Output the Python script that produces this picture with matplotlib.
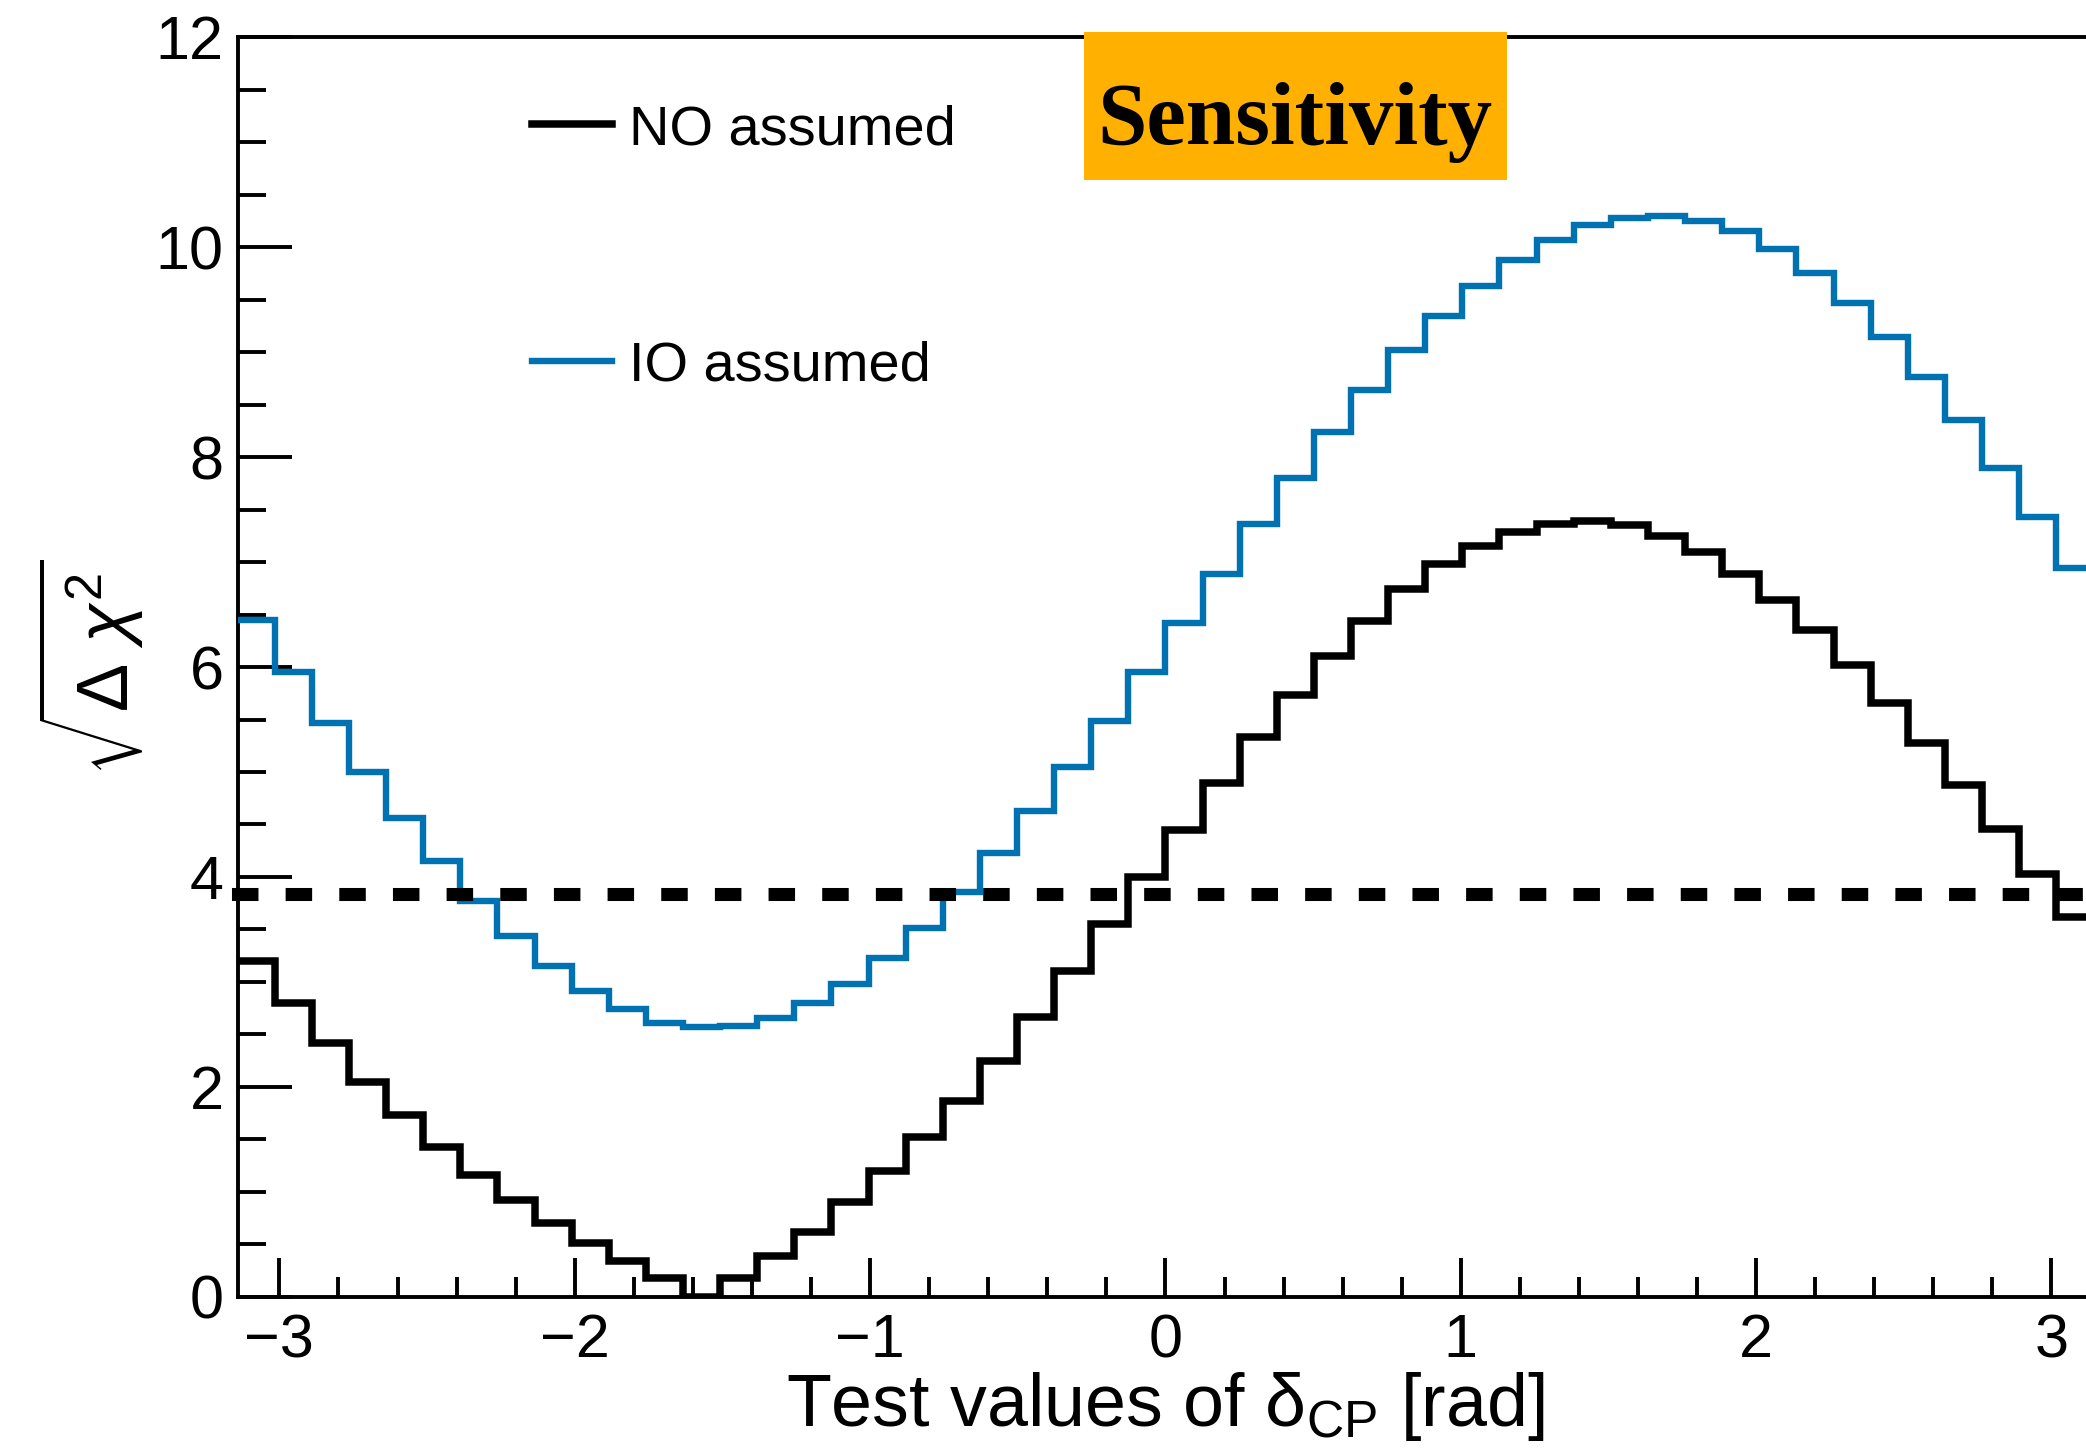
import numpy as np
import matplotlib
matplotlib.use("Agg")
import matplotlib.pyplot as plt
from matplotlib.lines import Line2D
from matplotlib.patches import Rectangle

# ---------------- data ----------------
n_bins = 50
x_min, x_max = -np.pi, np.pi
no_assumed = [3.20, 2.80, 2.42, 2.05, 1.73, 1.43, 1.16, 0.92, 0.70, 0.51,
              0.34, 0.18, 0.00, 0.18, 0.39, 0.62, 0.90, 1.20, 1.52, 1.87,
              2.25, 2.67, 3.10, 3.55, 4.00, 4.45, 4.90, 5.33, 5.73, 6.11,
              6.44, 6.74, 6.98, 7.15, 7.29, 7.36, 7.39, 7.35, 7.25, 7.10,
              6.89, 6.64, 6.35, 6.02, 5.66, 5.28, 4.88, 4.46, 4.03, 3.62]
io_assumed = [6.45, 5.95, 5.47, 5.00, 4.56, 4.15, 3.77, 3.44, 3.15, 2.91,
              2.74, 2.61, 2.57, 2.58, 2.66, 2.80, 2.98, 3.23, 3.51, 3.86,
              4.23, 4.63, 5.05, 5.49, 5.95, 6.42, 6.89, 7.36, 7.80, 8.24,
              8.64, 9.02, 9.34, 9.63, 9.88, 10.07, 10.21, 10.28, 10.30, 10.25,
              10.15, 9.98, 9.75, 9.47, 9.14, 8.76, 8.35, 7.90, 7.43, 6.94]
threshold = 3.84
labels = ["NO assumed", "IO assumed"]
x_ticks = [-3, -2, -1, 0, 1, 2, 3]
y_ticks = [0, 2, 4, 6, 8, 10, 12]
title_text = "Sensitivity"

# ---------------- style ----------------
plt.rcParams['font.family'] = ['Liberation Sans', 'DejaVu Sans']
plt.rcParams['mathtext.fontset'] = 'custom'
plt.rcParams['mathtext.rm'] = 'Liberation Sans'
plt.rcParams['mathtext.it'] = 'Liberation Sans:italic'
plt.rcParams['mathtext.bf'] = 'Liberation Sans:bold'

W, H, DPI = 2086, 1455, 100
fig = plt.figure(figsize=(W / DPI, H / DPI), dpi=DPI)
fig.patch.set_facecolor('white')

ax = fig.add_axes([0.1139, 0.10873, 0.8896, 0.86563])

edges = np.linspace(x_min, x_max, n_bins + 1)
black = '#000000'
blue = '#0072B2'
lw_black = 5.4
lw_blue = 4.6

ax.stairs(no_assumed, edges, baseline=None, color=black, linewidth=lw_black,
          joinstyle='miter', zorder=3)
ax.stairs(io_assumed, edges, baseline=None, color=blue, linewidth=lw_blue,
          joinstyle='miter', zorder=3)

ax.hlines(threshold, x_min, x_max, colors=black, linewidth=9.4,
          linestyles=(0, (1.03, 3.08)), capstyle='projecting',
          clip_on=False, zorder=4)

ax.set_xlim(x_min, x_max)
ax.set_ylim(0, 12)

ax.set_xticks(x_ticks)
ax.set_xticks(np.arange(-3.0, 3.01, 0.2), minor=True)
ax.set_yticks(y_ticks)
ax.set_yticks(np.arange(0, 12.01, 0.5), minor=True)
ax.set_xticklabels([str(v).replace('-', '\u2212') for v in x_ticks])
ax.set_yticklabels([str(v) for v in y_ticks])

for s in ['left', 'bottom', 'top']:
    ax.spines[s].set_linewidth(2.8)
ax.spines['right'].set_visible(False)

ax.tick_params(axis='y', which='major', direction='in', length=39, width=2.8,
               labelsize=44, pad=10)
ax.tick_params(axis='y', which='minor', direction='in', length=20, width=2.8)
ax.tick_params(axis='x', which='major', direction='in', length=28, width=2.8,
               labelsize=44, pad=12)
ax.tick_params(axis='x', which='minor', direction='in', length=14.5, width=2.8)
ax.tick_params(top=False, right=False, which='both')

ax.set_xlabel('Test values of \u03b4$_{\\mathrm{CP}}$ [rad]', fontsize=53)
ax.xaxis.set_label_coords(0.5, -0.058)
ax.set_ylabel(r'$\sqrt{\Delta\ \chi^{2}}$', fontsize=52)
ax.yaxis.set_label_coords(-0.049, 0.5)

handles = [Line2D([], [], color=black, linewidth=lw_black),
           Line2D([], [], color=blue, linewidth=lw_blue)]
ax.legend(handles, labels, loc='upper left', bbox_to_anchor=(0.1587, 0.947),
          frameon=False, fontsize=40.3, handlelength=1.43, handletextpad=0.3,
          labelspacing=3.3, borderpad=0, borderaxespad=0)

# "Sensitivity" badge
rect = Rectangle((0.5197, 0.8763), 0.2028, 0.1017, transform=fig.transFigure,
                 facecolor='#FFB000', edgecolor='none', zorder=10)
fig.patches.append(rect)
fig.text(0.6209, 0.9012, title_text, fontsize=64, fontweight='bold',
         family='Liberation Serif', ha='center', va='baseline',
         color='black', zorder=11)

fig.savefig('out.png', dpi=DPI)
